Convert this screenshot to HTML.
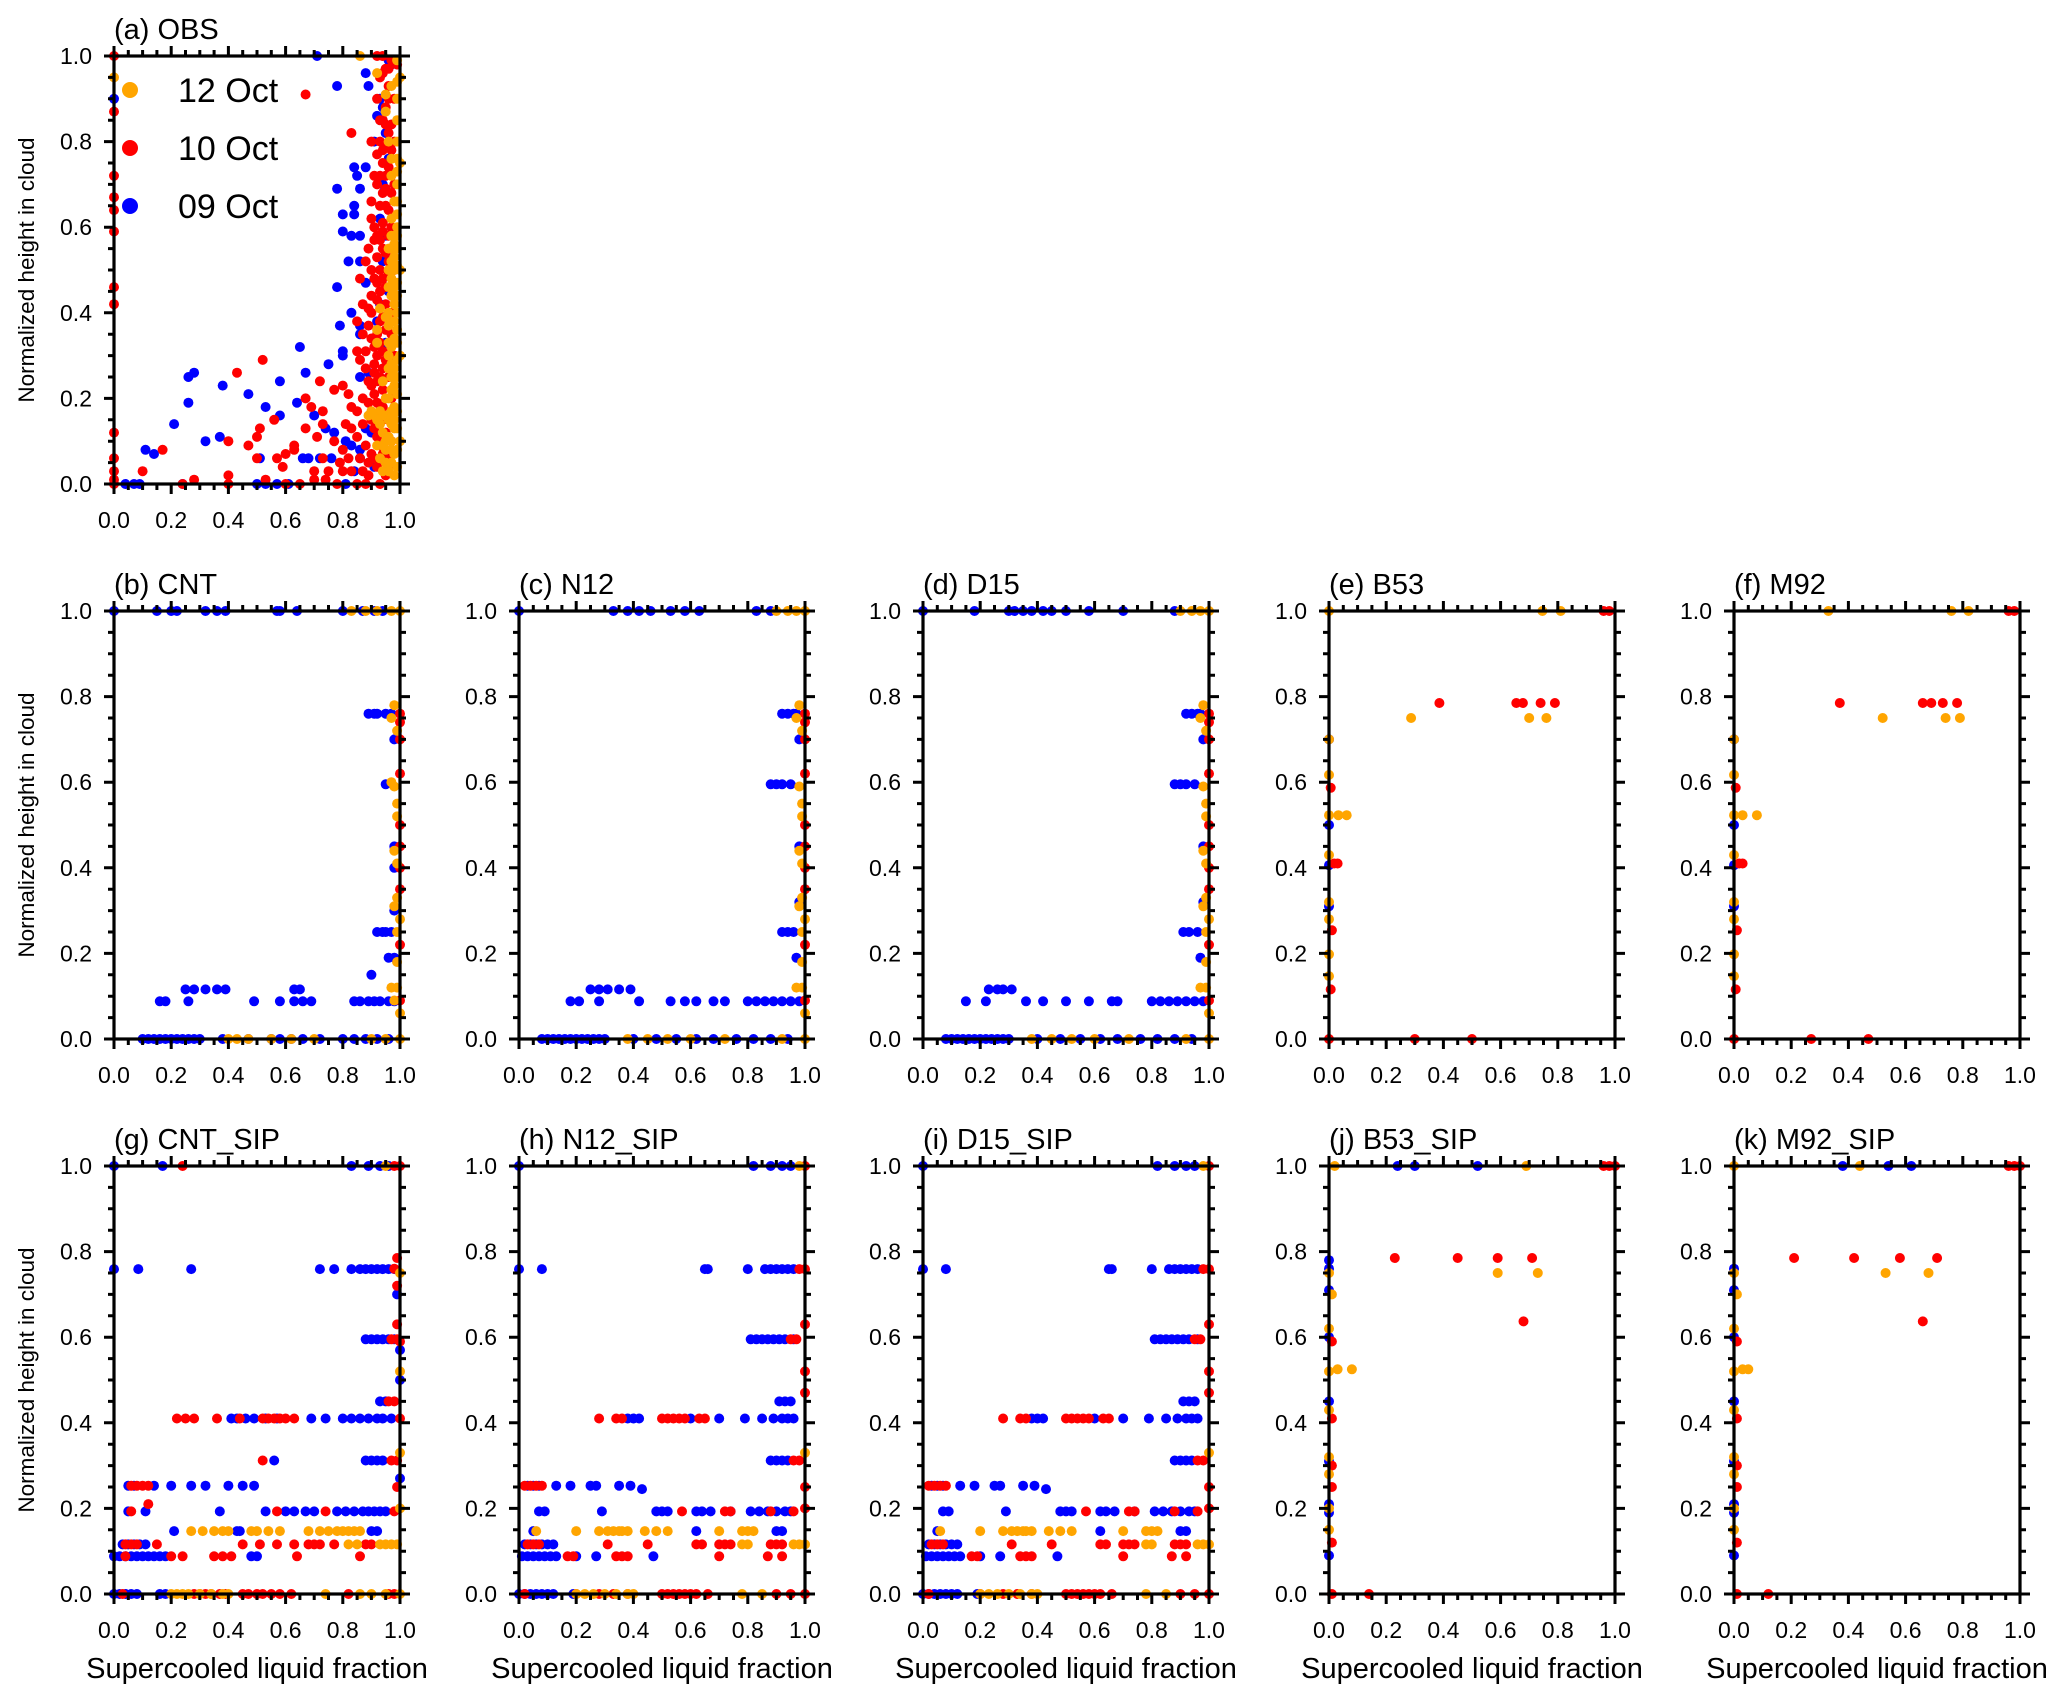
<!DOCTYPE html>
<html><head><meta charset="utf-8">
<style>
html,body{margin:0;padding:0;background:#fff;}
svg{display:block;font-family:"Liberation Sans",Arial,sans-serif;}
</style></head>
<body>
<svg id="fig" width="2067" height="1702" viewBox="0 0 2067 1702" xmlns="http://www.w3.org/2000/svg"></svg>
<script>
// ---- tick labels ----
const xTickLabels = ["0.0","0.2","0.4","0.6","0.8","1.0"];
const yTickLabels = ["0.0","0.2","0.4","0.6","0.8","1.0"];
const legendLabels = ["12 Oct","10 Oct","09 Oct"];
const panelTitles = ["(a) OBS","(b) CNT","(c) N12","(d) D15","(e) B53","(f) M92","(g) CNT_SIP","(h) N12_SIP","(i) D15_SIP","(j) B53_SIP","(k) M92_SIP"];

// ---- data: flat [x,y,x,y,...] per panel and series ----
const obsBlue = [0.71,1.0,0.78,0.93,0.88,0.96,0.89,0.93,0.92,0.86,0.91,0.80,0.84,0.74,0.85,0.72,0.88,0.74,0.78,0.69,0.86,0.69,0.80,0.63,0.84,0.65,0.84,0.63,0.80,0.59,0.83,0.58,0.86,0.58,0.82,0.52,0.86,0.52,0.78,0.46,0.88,0.47,0.83,0.40,0.86,0.37,0.79,0.37,0.86,0.35,0.80,0.31,0.80,0.30,0.65,0.32,0.75,0.28,0.67,0.26,0.89,0.26,0.86,0.25,0.26,0.25,0.28,0.26,0.38,0.23,0.47,0.21,0.26,0.19,0.53,0.18,0.58,0.24,0.58,0.16,0.64,0.19,0.70,0.16,0.21,0.14,0.32,0.10,0.37,0.11,0.51,0.06,0.66,0.06,0.68,0.06,0.72,0.06,0.76,0.06,0.74,0.13,0.77,0.12,0.81,0.10,0.86,0.08,0.84,0.03,0.11,0.08,0.14,0.07,0.04,0.0,0.07,0.0,0.09,0.0,0.24,0.0,0.50,0.0,0.53,0.0,0.57,0.0,0.61,0.0,0.81,0.0,0.0,0.90,0.96,0.99,0.97,0.98,0.93,0.90,0.94,0.88,0.95,0.82,0.96,0.76,0.94,0.70,0.93,0.62,0.95,0.58,0.94,0.52,0.96,0.45,0.93,0.42,0.92,0.38,0.95,0.33,0.88,0.13,0.90,0.12,0.86,0.06,0.91,0.04,0.83,0.09];
const obsRed = [0.67,0.91,0.83,0.82,0,1.0,0,0.87,0,0.72,0,0.67,0,0.64,0,0.59,0,0.46,0,0.42,0,0.12,0,0.06,0,0.03,0,0.01,0,0,0.17,0.08,0.10,0.03,0.28,0.01,0.24,0.0,0.40,0.10,0.40,0.0,0.40,0.02,0.43,0.26,0.52,0.29,0.47,0.09,0.50,0.11,0.50,0.06,0.53,0.01,0.51,0.13,0.56,0.15,0.57,0.06,0.60,0.07,0.59,0.04,0.63,0.08,0.63,0.09,0.60,0.00,0.67,0.20,0.67,0.13,0.69,0.18,0.72,0.24,0.73,0.17,0.73,0.14,0.71,0.11,0.70,0.03,0.70,0.01,0.74,0.01,0.75,0.03,0.77,0.10,0.79,0.05,0.77,0.22,0.80,0.23,0.82,0.21,0.83,0.18,0.81,0.14,0.85,0.17,0.80,0.03,0.83,0.03,0.85,0.00,0.86,0.06,0.88,0.09,0.87,0.14,0.89,0.19,0.90,0.23,0.88,0.27,0.86,0.29,0.85,0.31,0.87,0.35,0.85,0.38,0.87,0.42,0.86,0.48,0.90,0.44,0.88,0.52,0.89,0.55,0.91,0.60,0.90,0.66,0.91,0.72,0.92,0.77,0.90,0.80,0.93,0.85,0.92,0.90,0.93,0.95,0.92,1.0,0.94,1.0,0.95,0.97,0.96,0.93,0.95,0.88,0.97,0.84,0.95,0.79,0.96,0.74,0.94,0.68,0.96,0.64,0.93,0.57,0.95,0.54,0.93,0.50,0.95,0.46,0.92,0.43,0.94,0.39,0.92,0.35,0.94,0.31,0.91,0.28,0.93,0.25,0.91,0.21,0.93,0.17,0.90,0.15,0.92,0.11,0.90,0.07,0.92,0.04,0.89,0.02,0.93,0.00,0.95,0.02,0.96,0.06,0.97,0.10,0.97,0.20,0.98,0.30,0.97,0.40,0.98,0.50,0.97,0.60,0.98,0.70,0.98,0.80,0.98,0.90,0.99,0.98,0.97,0.35,0.96,0.25,0.96,0.15,0.88,0.00,0.78,0.00,0.73,0.06,0.65,0.00,0.91,0.48,0.89,0.37,0.91,0.32,0.90,0.62,0.92,0.70,0.94,0.75,
0.94,0.96,0.96,0.90,0.94,0.85,0.96,0.82,0.94,0.78,0.97,0.78,0.95,0.72,0.97,0.68,0.95,0.65,0.94,0.61,0.96,0.58,0.94,0.55,0.96,0.52,0.94,0.48,0.96,0.49,0.93,0.45,0.95,0.42,0.93,0.38,0.95,0.36,0.93,0.33,0.95,0.29,0.92,0.30,0.94,0.27,0.92,0.24,0.94,0.22,0.92,0.19,0.94,0.15,0.91,0.13,0.93,0.09,0.91,0.06,0.89,0.05,0.87,0.03,0.85,0.11,0.83,0.13,0.82,0.06,0.80,0.08,0.87,0.20,0.89,0.24,0.91,0.26,0.88,0.31,0.90,0.34,0.89,0.41,0.90,0.50,0.92,0.53,0.92,0.58,0.93,0.65,0.93,0.72,0.93,0.80,0.95,0.84,0.96,0.97,0.97,0.99,0.91,0.57,0.90,0.40,0.92,0.47,0.94,0.59,0.95,0.69,0.96,0.04,0.94,0.07,0.95,0.12,0.94,0.18];
const obsOrange = [0,0.95,0.86,1.0,0.92,0.96,0.95,0.91,0.95,0.87,0.97,0.93,0.96,0.80,0.97,0.72,0.98,0.66,0.97,0.62,0.99,0.60,0.97,0.55,0.98,0.50,0.96,0.46,0.98,0.42,0.93,0.41,0.92,0.36,0.96,0.37,0.98,0.34,0.92,0.33,0.96,0.30,0.98,0.27,0.94,0.24,0.97,0.22,0.95,0.20,0.98,0.18,0.93,0.17,0.91,0.16,0.89,0.16,0.96,0.15,0.98,0.13,0.94,0.12,0.97,0.10,0.92,0.09,0.95,0.08,0.93,0.06,0.97,0.05,0.94,0.03,0.98,0.02,0.99,0.08,0.99,0.25,0.99,0.40,0.99,0.55,0.99,0.70,0.99,0.85,1.0,0.95,1.0,0.75,1.0,0.50,1.0,0.30,1.0,0.10,0.97,0.76,0.98,0.58,0.97,0.48,0.96,0.40,0.97,0.32,
0.99,0.99,0.99,0.94,0.99,0.90,0.99,0.80,0.99,0.76,0.99,0.73,0.99,0.66,0.99,0.63,0.99,0.58,0.99,0.51,0.99,0.47,0.99,0.44,0.99,0.36,0.99,0.33,0.99,0.29,0.99,0.21,0.99,0.17,0.99,0.13,0.99,0.04,0.98,0.56,0.98,0.53,0.98,0.46,0.98,0.38,0.98,0.23,0.98,0.15,0.98,0.07,0.97,0.58,0.97,0.52,0.97,0.44,0.97,0.38,0.97,0.28,0.97,0.25,0.97,0.17,0.97,0.14,0.97,0.08,0.96,0.55,0.96,0.50,0.96,0.33,0.96,0.27,0.96,0.20,0.96,0.11,0.96,0.03,0.95,0.16,0.95,0.10,0.95,0.05,0.94,0.16,0.93,0.14,0.92,0.15,0.90,0.17,0.95,0.39,0.94,0.09];

const cntBlue = [0,1,0.15,1,0.20,1,0.22,1,0.32,1,0.36,1,0.39,1,0.57,1,0.58,1,0.64,1,0.80,1,0.87,1,0.91,1,0.94,1,0.89,0.76,0.91,0.76,0.92,0.76,0.95,0.76,0.97,0.76,0.95,0.595,0.92,0.25,0.94,0.25,0.95,0.25,0.97,0.25,0.96,0.19,0.98,0.19,0.90,0.15,0.25,0.116,0.28,0.116,0.32,0.116,0.36,0.116,0.39,0.116,0.63,0.116,0.65,0.116,0.16,0.088,0.18,0.088,0.26,0.088,0.49,0.088,0.58,0.088,0.63,0.088,0.66,0.088,0.69,0.088,0.84,0.088,0.86,0.088,0.89,0.088,0.91,0.088,0.93,0.088,0.96,0.088,0.98,0.088,0.10,0,0.12,0,0.14,0,0.16,0,0.18,0,0.20,0,0.22,0,0.24,0,0.26,0,0.28,0,0.30,0,0.38,0,0.47,0,0.55,0,0.58,0,0.62,0,0.66,0,0.72,0,0.80,0,0.84,0,0.88,0,0.92,0,0.96,0,0.98,0.45,0.98,0.30,0.98,0.40,0.98,0.70];
const cntRed = [1,0.74,1,0.70,1,0.62,1,0.50,1,0.45,1,0.40,1,0.35,1,0.22,1,0.09,1,0.76];
const cntOrange = [0.83,1,0.88,1,0.92,1,0.97,1,1,1,0.98,0.78,0.97,0.75,0.99,0.72,0.98,0.59,0.97,0.60,0.99,0.55,0.99,0.52,0.98,0.44,0.99,0.41,0.99,0.33,0.98,0.31,1,0.28,0.99,0.25,0.99,0.18,0.97,0.12,0.99,0.12,0.98,0.09,1,0.06,0.40,0,0.43,0,0.47,0,0.55,0,0.62,0,0.70,0,0.90,0,0.95,0,1,0];

const n12Blue = [0,1,0.33,1,0.38,1,0.42,1,0.46,1,0.53,1,0.58,1,0.63,1,0.83,1,0.88,1,0.92,0.76,0.94,0.76,0.96,0.76,0.97,0.76,0.88,0.595,0.90,0.595,0.92,0.595,0.95,0.595,0.92,0.25,0.94,0.25,0.96,0.25,0.97,0.19,0.25,0.116,0.28,0.116,0.31,0.116,0.35,0.116,0.39,0.116,0.18,0.088,0.21,0.088,0.28,0.088,0.42,0.088,0.53,0.088,0.58,0.088,0.62,0.088,0.68,0.088,0.72,0.088,0.80,0.088,0.83,0.088,0.86,0.088,0.89,0.088,0.92,0.088,0.95,0.088,0.98,0.088,0.08,0,0.10,0,0.12,0,0.14,0,0.16,0,0.18,0,0.20,0,0.22,0,0.24,0,0.26,0,0.28,0,0.30,0,0.40,0,0.48,0,0.55,0,0.62,0,0.68,0,0.76,0,0.82,0,0.88,0,0.94,0,0.98,0.45,0.98,0.32,0.98,0.70];
const n12Red = [1,0.74,1,0.70,1,0.62,1,0.50,1,0.45,1,0.40,1,0.35,1,0.22,1,0.09,1,0.76];
const n12Orange = [0.90,1,0.94,1,0.97,1,1,1,0.98,0.78,0.97,0.75,0.99,0.72,0.98,0.59,0.99,0.55,0.99,0.52,0.98,0.44,0.99,0.41,0.99,0.33,0.98,0.31,1,0.28,0.99,0.25,0.99,0.18,0.97,0.12,0.99,0.12,1,0.06,0.38,0,0.45,0,0.52,0,0.60,0,0.72,0,0.92,0,1,0];

const d15Blue = [0,1,0.18,1,0.30,1,0.32,1,0.35,1,0.38,1,0.42,1,0.45,1,0.50,1,0.58,1,0.70,1,0.88,1,0.92,0.76,0.94,0.76,0.96,0.76,0.97,0.76,0.88,0.595,0.90,0.595,0.92,0.595,0.95,0.595,0.91,0.25,0.93,0.25,0.96,0.25,0.97,0.19,0.23,0.116,0.26,0.116,0.28,0.116,0.31,0.116,0.15,0.088,0.22,0.088,0.36,0.088,0.42,0.088,0.50,0.088,0.58,0.088,0.66,0.088,0.68,0.088,0.80,0.088,0.83,0.088,0.86,0.088,0.89,0.088,0.92,0.088,0.95,0.088,0.98,0.088,0.08,0,0.10,0,0.12,0,0.14,0,0.16,0,0.18,0,0.20,0,0.22,0,0.24,0,0.26,0,0.28,0,0.30,0,0.40,0,0.48,0,0.55,0,0.62,0,0.68,0,0.76,0,0.82,0,0.88,0,0.94,0,0.98,0.45,0.98,0.32,0.98,0.70];
const d15Red = [1,0.74,1,0.70,1,0.62,1,0.50,1,0.45,1,0.40,1,0.35,1,0.22,1,0.09,1,0.76];
const d15Orange = [0.90,1,0.94,1,0.97,1,1,1,0.98,0.78,0.97,0.75,0.99,0.72,0.98,0.59,0.99,0.55,0.99,0.52,0.98,0.44,0.99,0.41,0.99,0.33,0.98,0.31,1,0.28,0.99,0.25,0.99,0.18,0.97,0.12,0.99,0.12,1,0.06,0.38,0,0.45,0,0.52,0,0.60,0,0.72,0,0.92,0,1,0];

const b53Blue = [0,0.70,0,0.50,0,0.406,0,0.31];
const b53Red = [0.386,0.785,0.655,0.785,0.678,0.785,0.74,0.785,0.79,0.785,0.96,1,0.98,1,0.006,0.587,0.018,0.41,0.03,0.41,0.01,0.254,0.006,0.116,0,0,0.30,0,0.50,0];
const b53Orange = [0.287,0.75,0.70,0.75,0.76,0.75,0,1,0.746,1,0.81,1,0,0.70,0,0.617,0,0.523,0.033,0.523,0.062,0.523,0,0.43,0,0.32,0,0.28,0,0.198,0,0.147];

const m92Blue = [0,0.70,0,0.50,0,0.406,0,0.31];
const m92Red = [0.37,0.785,0.66,0.785,0.69,0.785,0.73,0.785,0.78,0.785,0.96,1,0.98,1,0.006,0.587,0.018,0.41,0.03,0.41,0.01,0.254,0.006,0.116,0,0,0.27,0,0.47,0];
const m92Orange = [0.52,0.75,0.74,0.75,0.79,0.75,0.33,1,0.76,1,0.82,1,0,0.70,0,0.617,0,0.523,0.03,0.523,0.08,0.523,0,0.43,0,0.32,0,0.28,0,0.198,0,0.147];

const cntsipBlue = [0,1,0.17,1,0.83,1,0.89,1,0.93,1,0.96,1,0,0.759,0.085,0.759,0.27,0.759,0.72,0.759,0.77,0.759,0.83,0.759,0.86,0.759,0.88,0.759,0.90,0.759,0.92,0.759,0.94,0.759,0.96,0.759,0.98,0.759,0.88,0.595,0.90,0.595,0.92,0.595,0.94,0.595,0.96,0.595,0.98,0.595,0.93,0.45,0.95,0.45,0.41,0.41,0.43,0.41,0.46,0.41,0.49,0.41,0.53,0.41,0.57,0.41,0.69,0.41,0.74,0.41,0.80,0.41,0.83,0.41,0.86,0.41,0.89,0.41,0.92,0.41,0.94,0.41,0.97,0.41,0.88,0.312,0.90,0.312,0.92,0.312,0.94,0.312,0.56,0.312,0.05,0.253,0.07,0.253,0.14,0.253,0.20,0.253,0.27,0.253,0.32,0.253,0.40,0.253,0.45,0.253,0.49,0.253,0.05,0.193,0.11,0.193,0.37,0.193,0.53,0.193,0.60,0.193,0.63,0.193,0.67,0.193,0.70,0.193,0.78,0.193,0.81,0.193,0.84,0.193,0.87,0.193,0.89,0.193,0.91,0.193,0.93,0.193,0.95,0.193,0.21,0.147,0.43,0.147,0.44,0.147,0.90,0.147,0.92,0.147,0.03,0.116,0.05,0.116,0.07,0.116,0.09,0.116,0.11,0.116,0,0.088,0.02,0.088,0.04,0.088,0.06,0.088,0.08,0.088,0.10,0.088,0.12,0.088,0.14,0.088,0.16,0.088,0.18,0.088,0.48,0.088,0.50,0.088,0,0,0.02,0,0.04,0,0.06,0,0.08,0,0.16,0,0.18,0,0.99,0.70,1,0.57,1,0.50,1,0.27];
const cntsipRed = [0.24,1,0.98,1,1,1,0.99,0.785,0.98,0.76,0.99,0.72,0.99,0.63,1,0.59,0.97,0.595,0.99,0.595,0.96,0.45,0.98,0.45,0.22,0.41,0.25,0.41,0.28,0.41,0.36,0.41,0.44,0.41,0.52,0.41,0.54,0.41,0.56,0.41,0.58,0.41,0.60,0.41,0.63,0.41,1,0.41,0.52,0.312,0.97,0.312,0.99,0.312,0.06,0.253,0.08,0.253,0.10,0.253,0.12,0.253,0.12,0.21,0.99,0.25,0.06,0.193,0.57,0.193,0.74,0.193,0.98,0.193,0.04,0.116,0.06,0.116,0.08,0.116,0.15,0.116,0.45,0.116,0.51,0.116,0.57,0.116,0.63,0.116,0.68,0.116,0.70,0.116,0.72,0.116,0.77,0.116,0.88,0.116,0.90,0.116,0.04,0.088,0.20,0.088,0.24,0.088,0.35,0.088,0.38,0.088,0.41,0.088,0.64,0.088,0.86,0.088,0.03,0,0.28,0,0.30,0,0.32,0,0.34,0,0.37,0,0.39,0,0.45,0,0.47,0,0.50,0,0.52,0,0.55,0,0.58,0,0.62,0,0.82,0,0.96,0,0.98,0];
const cntsipOrange = [0.95,1,1,0.75,1,0.52,1,0.33,1,0.20,0.27,0.147,0.31,0.147,0.35,0.147,0.38,0.147,0.40,0.147,0.48,0.147,0.50,0.147,0.54,0.147,0.58,0.147,0.68,0.147,0.72,0.147,0.75,0.147,0.78,0.147,0.80,0.147,0.82,0.147,0.84,0.147,0.86,0.147,0.82,0.116,0.85,0.116,0.93,0.116,0.95,0.116,0.97,0.116,0.99,0.116,0.20,0,0.22,0,0.24,0,0.26,0,0.30,0,0.34,0,0.38,0,0.40,0,0.74,0,0.86,0,0.90,0,0.95,0,1,0];

const n12sipBlue = [0,1,0.82,1,0.88,1,0.92,1,0.95,1,0,0.759,0.08,0.759,0.65,0.759,0.66,0.759,0.80,0.759,0.86,0.759,0.88,0.759,0.90,0.759,0.92,0.759,0.94,0.759,0.96,0.759,0.81,0.595,0.83,0.595,0.85,0.595,0.87,0.595,0.89,0.595,0.91,0.595,0.93,0.595,0.96,0.595,0.91,0.45,0.93,0.45,0.95,0.45,0.38,0.41,0.40,0.41,0.42,0.41,0.60,0.41,0.70,0.41,0.79,0.41,0.85,0.41,0.89,0.41,0.92,0.41,0.94,0.41,0.96,0.41,0.88,0.312,0.90,0.312,0.92,0.312,0.94,0.312,0.03,0.253,0.05,0.253,0.07,0.253,0.13,0.253,0.18,0.253,0.25,0.253,0.27,0.253,0.35,0.253,0.39,0.253,0.43,0.245,0.07,0.193,0.09,0.193,0.29,0.193,0.48,0.193,0.50,0.193,0.52,0.193,0.62,0.193,0.64,0.193,0.67,0.193,0.74,0.193,0.81,0.193,0.84,0.193,0.87,0.193,0.90,0.193,0.93,0.193,0.95,0.193,0.05,0.147,0.62,0.147,0.90,0.147,0.92,0.147,0.02,0.116,0.04,0.116,0.06,0.116,0.08,0.116,0.10,0.116,0.12,0.116,0.01,0.088,0.03,0.088,0.05,0.088,0.07,0.088,0.09,0.088,0.11,0.088,0.13,0.088,0.20,0.088,0.27,0.088,0.47,0.088,0,0,0.02,0,0.04,0,0.06,0,0.08,0,0.10,0,0.12,0,0.19,0];
const n12sipRed = [1,1,0.98,0.759,1,0.759,0.95,0.595,0.97,0.595,0.28,0.41,0.34,0.41,0.36,0.41,0.50,0.41,0.52,0.41,0.54,0.41,0.56,0.41,0.58,0.41,0.63,0.41,0.65,0.41,0.96,0.312,0.98,0.312,0.02,0.253,0.04,0.253,0.06,0.253,0.08,0.253,0.57,0.193,0.72,0.193,0.74,0.193,0.88,0.193,0.96,0.193,0.03,0.116,0.05,0.116,0.07,0.116,0.31,0.116,0.45,0.116,0.62,0.116,0.64,0.116,0.70,0.116,0.72,0.116,0.74,0.116,0.88,0.116,0.90,0.116,0.92,0.116,0.17,0.088,0.19,0.088,0.34,0.088,0.36,0.088,0.38,0.088,0.70,0.088,0.87,0.088,0.92,0.088,0.02,0,0.20,0,0.28,0,0.33,0,0.38,0,0.50,0,0.52,0,0.54,0,0.56,0,0.58,0,0.60,0,0.62,0,0.66,0,0.90,0,0.95,0,1,0,1,0.63,1,0.52,1,0.47,1,0.25,1,0.20];
const n12sipOrange = [0.98,1,0.06,0.147,0.20,0.147,0.28,0.147,0.31,0.147,0.33,0.147,0.35,0.147,0.36,0.147,0.38,0.147,0.44,0.147,0.48,0.147,0.52,0.147,0.70,0.147,0.78,0.147,0.80,0.147,0.82,0.147,0.78,0.116,0.80,0.116,0.96,0.116,0.98,0.116,1,0.116,0.20,0,0.23,0,0.26,0,0.30,0,0.34,0,0.38,0,0.40,0,0.78,0,0.85,0,1,0.33];

const d15sipBlue = [0,1,0.82,1,0.88,1,0.92,1,0.95,1,0,0.759,0.08,0.759,0.65,0.759,0.66,0.759,0.80,0.759,0.86,0.759,0.88,0.759,0.90,0.759,0.92,0.759,0.94,0.759,0.96,0.759,0.81,0.595,0.83,0.595,0.85,0.595,0.87,0.595,0.89,0.595,0.91,0.595,0.93,0.595,0.96,0.595,0.91,0.45,0.93,0.45,0.95,0.45,0.38,0.41,0.40,0.41,0.42,0.41,0.60,0.41,0.70,0.41,0.79,0.41,0.85,0.41,0.89,0.41,0.92,0.41,0.94,0.41,0.96,0.41,0.88,0.312,0.90,0.312,0.92,0.312,0.94,0.312,0.03,0.253,0.05,0.253,0.07,0.253,0.13,0.253,0.18,0.253,0.25,0.253,0.27,0.253,0.35,0.253,0.39,0.253,0.43,0.245,0.07,0.193,0.09,0.193,0.29,0.193,0.48,0.193,0.50,0.193,0.52,0.193,0.62,0.193,0.64,0.193,0.67,0.193,0.74,0.193,0.81,0.193,0.84,0.193,0.87,0.193,0.90,0.193,0.93,0.193,0.95,0.193,0.05,0.147,0.62,0.147,0.90,0.147,0.92,0.147,0.02,0.116,0.04,0.116,0.06,0.116,0.08,0.116,0.10,0.116,0.12,0.116,0.01,0.088,0.03,0.088,0.05,0.088,0.07,0.088,0.09,0.088,0.11,0.088,0.13,0.088,0.20,0.088,0.27,0.088,0.47,0.088,0,0,0.02,0,0.04,0,0.06,0,0.08,0,0.10,0,0.12,0,0.19,0];
const d15sipRed = [1,1,0.98,0.759,1,0.759,0.95,0.595,0.97,0.595,0.28,0.41,0.34,0.41,0.36,0.41,0.50,0.41,0.52,0.41,0.54,0.41,0.56,0.41,0.58,0.41,0.63,0.41,0.65,0.41,0.96,0.312,0.98,0.312,0.02,0.253,0.04,0.253,0.06,0.253,0.08,0.253,0.57,0.193,0.72,0.193,0.74,0.193,0.88,0.193,0.96,0.193,0.03,0.116,0.05,0.116,0.07,0.116,0.31,0.116,0.45,0.116,0.62,0.116,0.64,0.116,0.70,0.116,0.72,0.116,0.74,0.116,0.88,0.116,0.90,0.116,0.92,0.116,0.17,0.088,0.19,0.088,0.34,0.088,0.36,0.088,0.38,0.088,0.70,0.088,0.87,0.088,0.92,0.088,0.02,0,0.20,0,0.28,0,0.33,0,0.38,0,0.50,0,0.52,0,0.54,0,0.56,0,0.58,0,0.60,0,0.62,0,0.66,0,0.90,0,0.95,0,1,0,1,0.63,1,0.52,1,0.47,1,0.25,1,0.20];
const d15sipOrange = [0.98,1,0.06,0.147,0.20,0.147,0.28,0.147,0.31,0.147,0.33,0.147,0.35,0.147,0.36,0.147,0.38,0.147,0.44,0.147,0.48,0.147,0.52,0.147,0.70,0.147,0.78,0.147,0.80,0.147,0.82,0.147,0.78,0.116,0.80,0.116,0.96,0.116,0.98,0.116,1,0.116,0.20,0,0.23,0,0.26,0,0.30,0,0.34,0,0.38,0,0.40,0,0.78,0,0.85,0,1,0.33];

const b53sipBlue = [0.24,1,0.30,1,0.52,1,0,0.78,0,0.76,0,0.71,0,0.60,0,0.45,0,0.31,0,0.21,0,0.19,0,0.09];
const b53sipRed = [0.23,0.785,0.45,0.785,0.59,0.785,0.71,0.785,0.68,0.637,0.96,1,0.98,1,1,1,0.01,0.59,0.01,0.41,0.01,0.30,0.01,0.25,0.01,0.12,0.01,0,0.14,0];
const b53sipOrange = [0.59,0.75,0.73,0.75,0.02,1,0.69,1,0.03,0.525,0.08,0.525,0,0.75,0.01,0.70,0,0.62,0,0.52,0,0.43,0,0.32,0,0.28,0,0.20,0,0.15];

const m92sipBlue = [0.38,1,0.54,1,0.62,1,0,0.76,0,0.71,0,0.60,0,0.45,0,0.31,0,0.21,0,0.19,0,0.09];
const m92sipRed = [0.21,0.785,0.42,0.785,0.58,0.785,0.71,0.785,0.66,0.637,0.96,1,0.98,1,1,1,0.01,0.59,0.01,0.41,0.01,0.30,0.01,0.25,0.01,0.12,0.01,0,0.12,0];
const m92sipOrange = [0.53,0.75,0.68,0.75,0.44,1,0,1,0.03,0.525,0.05,0.525,0,0.75,0.01,0.70,0,0.62,0,0.52,0,0.43,0,0.32,0,0.28,0,0.20,0,0.15];

// ---- layout ----
const NS="http://www.w3.org/2000/svg";
const svg=document.getElementById('fig');
const colX=[114,519,923,1329,1734];
const rowY=[56,611,1166];
const PW=286, PH=428;
const COL={blue:"#0000ff",red:"#ff0000",orange:"#ffa500"};
function mk(tag,attrs,parent){const e=document.createElementNS(NS,tag);for(const k in attrs)e.setAttribute(k,attrs[k]);(parent||svg).appendChild(e);return e;}

const panels=[
 {slug:"obs",c:0,r:0,blue:obsBlue,red:obsRed,orange:obsOrange,legend:true,ylab:true,xlab:false},
 {slug:"cnt",c:0,r:1,blue:cntBlue,red:cntRed,orange:cntOrange,ylab:true},
 {slug:"n12",c:1,r:1,blue:n12Blue,red:n12Red,orange:n12Orange},
 {slug:"d15",c:2,r:1,blue:d15Blue,red:d15Red,orange:d15Orange},
 {slug:"b53",c:3,r:1,blue:b53Blue,red:b53Red,orange:b53Orange},
 {slug:"m92",c:4,r:1,blue:m92Blue,red:m92Red,orange:m92Orange},
 {slug:"cnt-sip",c:0,r:2,blue:cntsipBlue,red:cntsipRed,orange:cntsipOrange,ylab:true,xlab:true},
 {slug:"n12-sip",c:1,r:2,blue:n12sipBlue,red:n12sipRed,orange:n12sipOrange,xlab:true},
 {slug:"d15-sip",c:2,r:2,blue:d15sipBlue,red:d15sipRed,orange:d15sipOrange,xlab:true},
 {slug:"b53-sip",c:3,r:2,blue:b53sipBlue,red:b53sipRed,orange:b53sipOrange,xlab:true},
 {slug:"m92-sip",c:4,r:2,blue:m92sipBlue,red:m92sipRed,orange:m92sipOrange,xlab:true}
];

panels.forEach((p,i)=>{
  const x0=colX[p.c], y0=rowY[p.r];
  const sx=v=>x0+v*PW, sy=v=>y0+PH-v*PH;
  const g=mk('g',{});
  
  
  const t=mk('text',{x:x0,y:y0-17,'font-size':29,fill:'#000'},g);
  t.textContent=panelTitles[i];
  
  
  ['blue','red','orange'].forEach(s=>{
    const arr=p[s];
    const sg=mk('g',{fill:COL[s]},g);
    
    
    for(let k=0;k<arr.length;k+=2){
      const c=mk('circle',{cx:sx(arr[k]).toFixed(1),cy:sy(arr[k+1]).toFixed(1),r:5},sg);
      
      
    }
  });
  const fr=mk('rect',{x:x0,y:y0,width:PW,height:PH,fill:'none',stroke:'#000','stroke-width':3.2},g);
  
  
  let d='';
  for(let k=0;k<=20;k++){
    const v=k*0.05, major=(k%4===0), L=major?10:6;
    const xx=sx(v), yy=sy(v);
    d+=`M${xx},${y0+PH}v${L}M${xx},${y0}v${-L}M${x0},${yy}h${-L}M${x0+PW},${yy}h${L}`;
  }
  const tk=mk('path',{d:d,stroke:'#000','stroke-width':3,fill:'none'},g);
  
  
  xTickLabels.forEach((lab,j)=>{
    const tx=mk('text',{x:sx(j*0.2),y:y0+PH+44,'font-size':23,'text-anchor':'middle',fill:'#000'},g);
    tx.textContent=lab;
    
    
  });
  yTickLabels.forEach((lab,j)=>{
    const ty=mk('text',{x:x0-22,y:sy(j*0.2)+8,'font-size':23,'text-anchor':'end',fill:'#000'},g);
    ty.textContent=lab;
    
    
  });
  if(p.ylab){
    const yl=mk('text',{x:0,y:0,'font-size':22.5,'text-anchor':'middle',fill:'#000',transform:`translate(34,${y0+PH/2}) rotate(-90)`},g);
    yl.textContent='Normalized height in cloud';
    
    
  }
  if(p.xlab){
    const xl=mk('text',{x:x0+PW/2,y:y0+PH+84,'font-size':29,'text-anchor':'middle',fill:'#000'},g);
    xl.textContent='Supercooled liquid fraction';
    
    
  }
  if(p.legend){
    const lg=mk('g',{},g);
    
    
    const lc=[COL.orange,COL.red,COL.blue];
    legendLabels.forEach((lab,j)=>{
      const yy=y0+34+j*58;
      const c=mk('circle',{cx:x0+16,cy:yy,r:8,fill:lc[j]},lg);
      
      
      const lt=mk('text',{x:x0+64,y:yy+12,'font-size':34,fill:'#000'},lg);
      lt.textContent=lab;
      
      
    });
  }
});
</script>
</body></html>
